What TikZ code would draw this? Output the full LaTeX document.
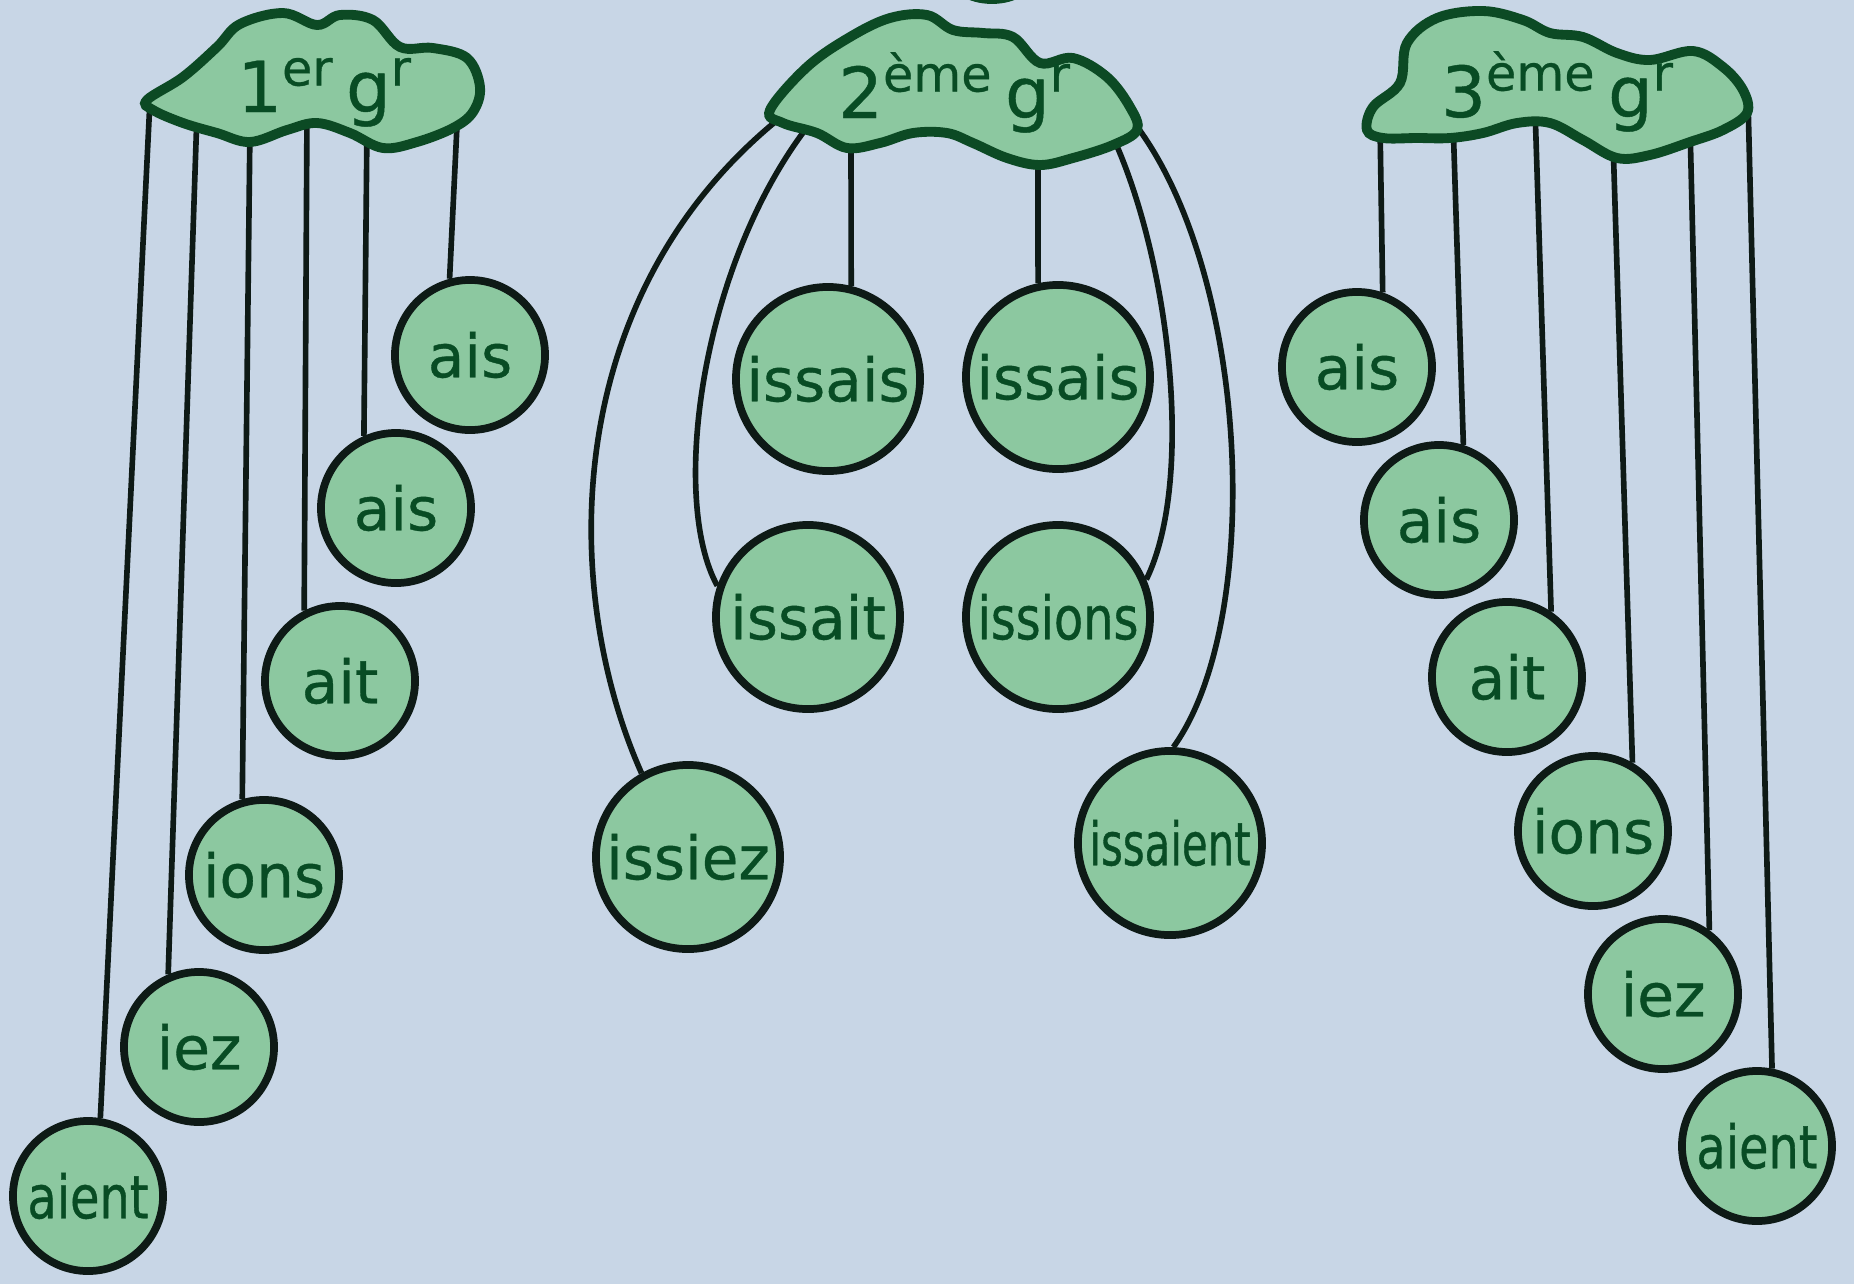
\documentclass[tikz,border=0pt]{standalone}
\usepackage{fontspec}
\setmainfont[FakeBold=0.6]{DejaVu Sans}
\newfontfamily\slimfont[FakeStretch=0.8,FakeBold=0.6]{DejaVu Sans}
\newfontfamily\narrowfont[FakeStretch=0.7,FakeBold=0.6]{DejaVu Sans}
\usepackage{tikz}

\definecolor{paper}{RGB}{200,214,230}
\definecolor{leaf}{RGB}{140,200,160}
\definecolor{leafdark}{RGB}{12,74,36}
\definecolor{ink}{RGB}{14,26,22}
\definecolor{letter}{RGB}{8,76,36}

\tikzset{
  endball/.style={circle,draw=ink,fill=leaf,line width=2.2pt,minimum size=1.5cm,
                  inner sep=0pt,text=letter,font=\fontsize{17}{20}\selectfont},
  string/.style={draw=ink,line width=1.6pt},
  cloudline/.style={draw=leafdark,fill=leaf,line width=2.8pt},
  cloudtext/.style={anchor=base,text=letter,font=\fontsize{20}{24}\selectfont}
}

\begin{document}
\begin{tikzpicture}[x=0.01cm,y=-0.01cm]
\clip (0,0) rectangle (1854,1284);
\fill[paper] (0,0) rectangle (1854,1284);

% ball cut off at the top edge
\draw[cloudline] (992,-26) ellipse [x radius=40, y radius=25];

% 1er groupe
\begin{scope}[every node/.style={endball}]
    \node (Aais)   at (470,355)  {ais};
    \node (Aaisb)  at (396,508)  {ais};
    \node (Aait)   at (340,681)  {ait};
    \node (Aions)  at (264,875)  {ions};
    \node (Aiez)   at (199,1047) {iez};
    \node (Aaient) at (88,1196)  {\slimfont aient};
\end{scope}

% 2eme groupe
\begin{scope}[every node/.style={endball,minimum size=1.84cm}]
    \node (Bissais)   at (828,379)  {issais};
    \node (Bissaisb)  at (1058,377) {issais};
    \node (Bissait)   at (808,617)  {issait};
    \node (Bissions)  at (1058,617) {\slimfont issions};
    \node (Bissiez)   at (688,857)  {issiez};
    \node (Bissaient) at (1170,843) {\narrowfont issaient};
\end{scope}

% 3eme groupe
\begin{scope}[every node/.style={endball}]
    \node (Cais)   at (1357,367)  {ais};
    \node (Caisb)  at (1439,520)  {ais};
    \node (Cait)   at (1507,677)  {ait};
    \node (Cions)  at (1593,831)  {ions};
    \node (Ciez)   at (1663,994)  {iez};
    \node (Caient) at (1757,1146) {\slimfont aient};
\end{scope}

% where the strings leave the clouds
\coordinate (a1) at (150,100);
\coordinate (a2) at (197,113);
\coordinate (a3) at (250,125);
\coordinate (a4) at (307,110);
\coordinate (a5) at (367,125);
\coordinate (a6) at (458,105);
\coordinate (b1) at (775,122);
\coordinate (b2) at (805,130);
\coordinate (b3) at (851,140);
\coordinate (b4) at (1038,150);
\coordinate (b5) at (1112,135);
\coordinate (b6) at (1132,120);
\coordinate (c1) at (1380,125);
\coordinate (c2) at (1453,120);
\coordinate (c3) at (1535,108);
\coordinate (c4) at (1613,140);
\coordinate (c5) at (1690,125);
\coordinate (c6) at (1748,100);

\begin{scope}[every edge/.style={string}]
    \path (a1) edge (Aaient.81);
    \path (a2) edge (Aiez.113);
    \path (a3) edge (Aions.106);
    \path (a4) edge (Aait.117);
    \path (a5) edge (Aaisb.114);
    \path (a6) edge (Aais.105);
    \path (b3) edge (Bissais.76);
    \path (b4) edge (Bissaisb.102);
    \path (c1) edge (Cais.71);
    \path (c2) edge (Caisb.72);
    \path (c3) edge (Cait.56);
    \path (c4) edge (Cions.60);
    \path (c5) edge (Ciez.54);
    \path (c6) edge (Caient.79);
\end{scope}
\draw[string] (b1) .. controls (560,300) and (560,590) .. (Bissiez.119);
\draw[string] (b2) .. controls (700,270) and (670,500) .. (Bissait.161);
\draw[string] (b5) .. controls (1170,260) and (1195,480) .. (Bissions.23);
\draw[string] (b6) .. controls (1250,270) and (1265,620) .. (Bissaient.88);

% clouds
\draw[cloudline] plot[smooth cycle,tension=0.6] coordinates {
  (147,100) (183,77) (217,47) (240,24) (283,13) (317,25) (340,15) (373,20)
  (400,47) (433,48) (467,58) (480,87) (473,112) (453,128) (417,142) (383,148)
  (350,133) (317,123) (287,130) (250,142) (217,133) (183,123) (153,110)};
\draw[cloudline] plot[smooth cycle,tension=0.6] coordinates {
  (770,110) (807,67) (850,37) (890,18) (927,15) (953,30) (983,33) (1013,37)
  (1040,63) (1073,58) (1107,77) (1130,107) (1137,130) (1113,145) (1073,158)
  (1040,165) (1007,158) (973,143) (947,133) (913,133) (880,143) (847,148)
  (817,133) (783,123)};
\draw[cloudline] plot[smooth cycle,tension=0.6] coordinates {
  (1367,130) (1373,107) (1400,83) (1407,43) (1437,18) (1483,11) (1523,20)
  (1550,33) (1583,37) (1617,53) (1650,60) (1693,51) (1723,67) (1743,90)
  (1747,113) (1723,130) (1690,142) (1650,155) (1617,158) (1583,140) (1550,123)
  (1517,123) (1483,133) (1450,138) (1417,138) (1383,138)};

\node[cloudtext] (lab1) at (325,112)  {1\textsuperscript{er}\,g\textsuperscript{r}};
\node[cloudtext] (lab2) at (955,118)  {2\textsuperscript{ème}\,g\textsuperscript{r}};
\node[cloudtext] (lab3) at (1558,117) {3\textsuperscript{ème}\,g\textsuperscript{r}};
\end{tikzpicture}
\end{document}
